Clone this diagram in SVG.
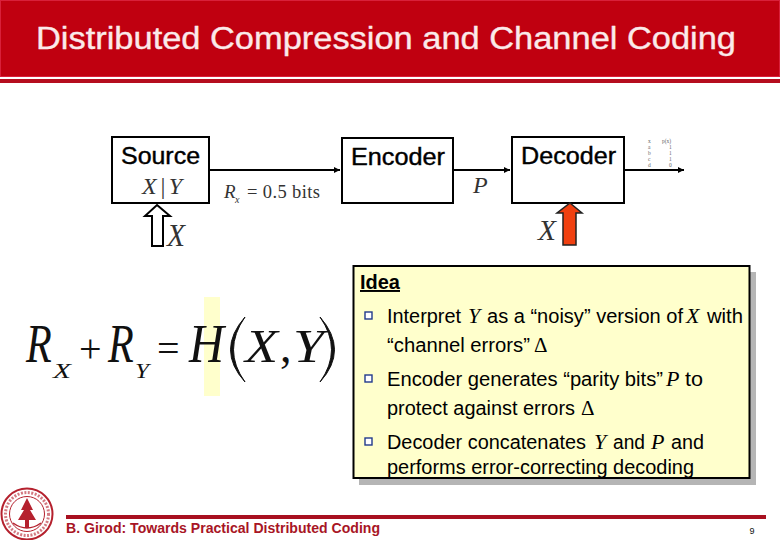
<svg xmlns="http://www.w3.org/2000/svg" width="780" height="540" viewBox="0 0 780 540">
<style>
.s{font-family:"Liberation Sans",Arial,sans-serif}
.m{font-family:"Liberation Serif","Times New Roman",serif;font-style:italic}
.r{font-family:"Liberation Serif","Times New Roman",serif}
.b{fill:#fff;stroke:#000;stroke-width:2}
.l{font-family:"Liberation Sans",Arial,sans-serif;font-size:23px;stroke:#000;stroke-width:.4px;fill:#000}
.t{font-family:"Liberation Sans",Arial,sans-serif;font-size:19.5px;fill:#000}
.u{font-family:"Liberation Serif","Times New Roman",serif;font-style:italic;font-size:24px;fill:#333}
.c{stroke:#000;stroke-width:2;fill:none}
.q{fill:#fff;stroke:#223a8c;stroke-width:1.4}
</style>
<defs>
<marker id="a" markerWidth="8" markerHeight="8" refX="6" refY="3" orient="auto" markerUnits="userSpaceOnUse"><path d="M0 0L6 3L0 6z" fill="#000"/></marker>
</defs>
<rect width="780" height="540" fill="#fff"/>
<g id="header">
<rect x="0" y="0" width="780" height="77" fill="#c00010"/>
<rect x="0.500" y="0.500" width="779" height="76" fill="none" stroke="#d8203a"/>
<rect x="0" y="79" width="780" height="4" fill="#b50d1e"/>
<text x="36" y="49" class="s" font-size="31" fill="#fbeaea" stroke="#fbeaea" stroke-width=".35" textLength="700" lengthAdjust="spacingAndGlyphs">Distributed Compression and Channel Coding</text>
</g>
<g id="connectors">
<path class="c" d="M209 170H340" marker-end="url(#a)"/>
<path class="c" d="M453 170H510" marker-end="url(#a)"/>
<path class="c" d="M624 170H684" marker-end="url(#a)"/>
</g>
<g id="source">
<rect class="b" x="112" y="137" width="97" height="66"/>
<text x="121" y="164" class="l" textLength="79" lengthAdjust="spacingAndGlyphs">Source</text>
<text x="142" y="194" class="u" textLength="40">X|Y</text>
</g>
<g id="encoder">
<rect class="b" x="342" y="138" width="111" height="65"/>
<text x="351" y="165" class="l" textLength="94" lengthAdjust="spacingAndGlyphs">Encoder</text>
</g>
<g id="decoder">
<rect class="b" x="512" y="137" width="112" height="66"/>
<text x="521" y="164" class="l" textLength="95" lengthAdjust="spacingAndGlyphs">Decoder</text>
</g>
<g id="rate-label">
<text x="224" y="198" class="m" font-size="19" fill="#333">R</text>
<text x="235" y="203" class="m" font-size="10" fill="#333">x</text>
<text x="247" y="198" class="r" font-size="18.500" fill="#333" textLength="73">= 0.5 bits</text>
</g>
<g id="parity-label"><text x="473" y="193" class="u">P</text></g>
<g id="side-x-source">
<path d="M157 205L170 216H163V246H152V216H145z" fill="#fff" stroke="#000" stroke-width="2"/>
<text x="167" y="246" class="u" style="font-size:32px" textLength="18" lengthAdjust="spacingAndGlyphs">X</text>
</g>
<g id="side-x-decoder">
<path d="M570 203L582 213H576V245H563V213H557z" fill="#f04010" stroke="#222" stroke-width="1.500"/>
<text x="538" y="240" class="u" style="font-size:29px" textLength="18" lengthAdjust="spacingAndGlyphs">X</text>
</g>
<g id="table" font-family="Liberation Serif,serif" font-size="5.500" fill="#666">
<text x="648" y="143">x</text><text x="662" y="143">p(x)</text>
<text x="648" y="149">a</text><text x="669" y="149">1</text>
<text x="648" y="155">b</text><text x="669" y="155">1</text>
<text x="648" y="161">c</text><text x="669" y="161">1</text>
<text x="648" y="167">d</text><text x="669" y="167">0</text>
</g>
<g id="formula">
<rect x="204" y="297" width="16" height="99" fill="#ffffcc"/>
<g class="m" fill="#111">
<text transform="translate(26 362) scale(.78 1)" font-size="54">R</text>
<text x="53" y="378" font-size="22" textLength="18" lengthAdjust="spacingAndGlyphs">X</text>
<text transform="translate(108 362) scale(.78 1)" font-size="54">R</text>
<text x="135" y="378" font-size="22" textLength="14" lengthAdjust="spacingAndGlyphs">Y</text>
<text x="189" y="362" font-size="54" textLength="35" lengthAdjust="spacingAndGlyphs">H</text>
<text x="245" y="362" font-size="46" textLength="33" lengthAdjust="spacingAndGlyphs">X</text>
<text x="293" y="362" font-size="46" textLength="31" lengthAdjust="spacingAndGlyphs">Y</text>
</g>
<g class="r" fill="#111">
<text x="79" y="362" font-size="40">+</text>
<text x="157" y="362" font-size="40">=</text>
<text x="280" y="362" font-size="46">,</text>
</g>
<path d="M245 317Q216 350 245 382Q222 350 245 317zM320 317Q349 350 320 382Q343 350 320 317z" fill="#111" stroke="#111" stroke-width="1"/>
</g>
<g id="idea">
<rect x="359" y="272" width="397" height="213" fill="#b5b5b5"/>
<rect x="353.500" y="266" width="396" height="212" fill="#ffffcc" stroke="#000" stroke-width="2"/>
<text x="360" y="289" class="s" font-size="19.500" text-decoration="underline" font-weight="bold" textLength="40" lengthAdjust="spacingAndGlyphs">Idea</text>
<rect class="q" x="365" y="312" width="7" height="7"/>
<rect class="q" x="365" y="375" width="7" height="7"/>
<rect class="q" x="365" y="438" width="7" height="7"/>
<text x="387" y="323" class="t" textLength="74" lengthAdjust="spacingAndGlyphs">Interpret</text>
<text x="468" y="323" class="m" font-size="22">Y</text>
<text x="487" y="323" class="t" textLength="196" lengthAdjust="spacingAndGlyphs">as a “noisy” version of</text>
<text x="686" y="323" class="m" font-size="22">X</text>
<text x="707" y="323" class="t" textLength="36" lengthAdjust="spacingAndGlyphs">with</text>
<text x="387" y="352" class="t" textLength="143" lengthAdjust="spacingAndGlyphs">“channel errors”</text>
<text x="534" y="352" class="r" font-size="21">Δ</text>
<text x="387" y="386" class="t" textLength="276" lengthAdjust="spacingAndGlyphs">Encoder generates “parity bits”</text>
<text x="666" y="386" class="m" font-size="22">P</text>
<text x="685" y="386" class="t" textLength="18" lengthAdjust="spacingAndGlyphs">to</text>
<text x="387" y="415" class="t" textLength="188" lengthAdjust="spacingAndGlyphs">protect against errors</text>
<text x="581" y="415" class="r" font-size="21">Δ</text>
<text x="387" y="449" class="t" textLength="199" lengthAdjust="spacingAndGlyphs">Decoder concatenates</text>
<text x="594" y="449" class="m" font-size="22">Y</text>
<text x="613" y="449" class="t" textLength="32" lengthAdjust="spacingAndGlyphs">and</text>
<text x="651" y="449" class="m" font-size="22">P</text>
<text x="671" y="449" class="t" textLength="33" lengthAdjust="spacingAndGlyphs">and</text>
<text x="387" y="474" class="t" textLength="307" lengthAdjust="spacingAndGlyphs">performs error-correcting decoding</text>
</g>
<g id="seal" fill="none" stroke="#b5212e">
<circle cx="27" cy="514" r="25.500" stroke-width="2"/>
<circle cx="27" cy="514" r="17.500" stroke-width="1"/>
<circle cx="27" cy="514" r="21.500" stroke-width="3" stroke-dasharray="2 1.500" opacity=".6"/>
<path d="M27 498L33 510L30 510L36 520L29 520V528H25V520L18 520L24 510L21 510z" fill="#b5212e" stroke="none"/>
<path d="M13 523Q27 533 41 523" stroke-width="1.500"/>
</g>
<g id="footer">
<rect x="66" y="515" width="700" height="4" fill="#a81020"/>
<text x="66" y="533" class="s" font-size="14" font-weight="bold" fill="#a81525" textLength="314" lengthAdjust="spacingAndGlyphs">B. Girod: Towards Practical Distributed Coding</text>
<text x="752" y="534" text-anchor="middle" class="s" font-size="9" fill="#111">9</text>
</g>
</svg>
